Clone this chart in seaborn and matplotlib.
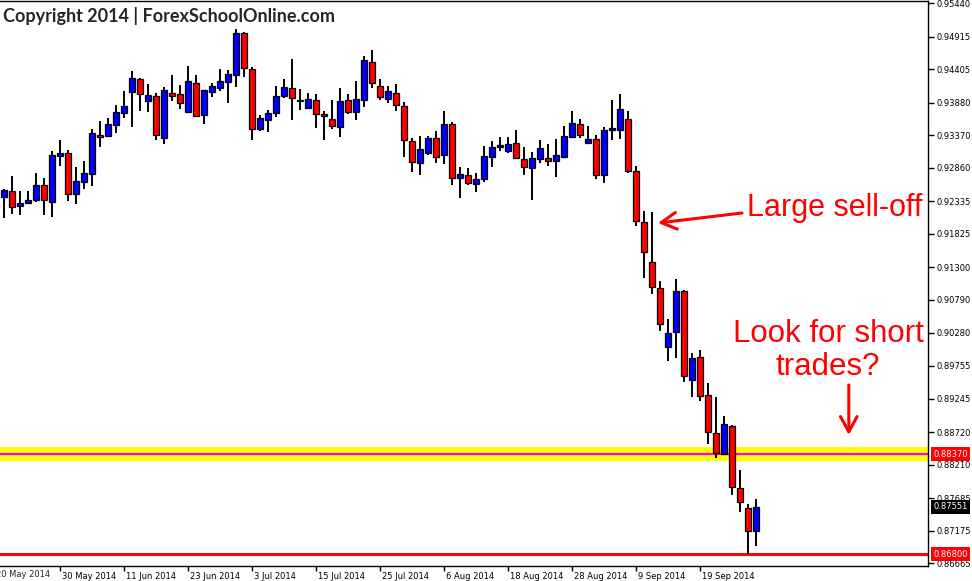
import matplotlib
matplotlib.use("Agg")
import matplotlib.pyplot as plt
import matplotlib.transforms as mtransforms
import pandas as pd
import seaborn as sns

# daily candles (oldest first)
opens = [0.92400, 0.92494, 0.92259, 0.92306, 0.92353, 0.92588, 0.92331, 0.93043, 0.93090, 0.92447,
         0.92636, 0.92761, 0.93373, 0.93357, 0.93529, 0.93717, 0.94047, 0.94251, 0.93906, 0.93984,
         0.93326, 0.94031, 0.94015, 0.93733, 0.94188, 0.93686, 0.94047, 0.94109, 0.94204, 0.94313,
         0.94972, 0.94407, 0.93467, 0.93608, 0.93717, 0.93984, 0.94109, 0.93921, 0.93796, 0.93921,
         0.93702, 0.93623, 0.93498, 0.93921, 0.93733, 0.93921, 0.94517, 0.94141, 0.93937, 0.94031,
         0.93827, 0.93278, 0.92933, 0.93090, 0.93326, 0.93059, 0.93545, 0.92698, 0.92745, 0.92604,
         0.92683, 0.93028, 0.93184, 0.93122, 0.93247, 0.92996, 0.92855, 0.92996, 0.93012, 0.92965,
         0.93028, 0.93341, 0.93545, 0.93247, 0.93310, 0.92745, 0.93451, 0.93451, 0.93623, 0.92808,
         0.92008, 0.91381, 0.90973, 0.90048, 0.90284, 0.90926, 0.89531, 0.89892, 0.89296, 0.88700,
         0.88371, 0.88810, 0.87838, 0.87524, 0.87163]
highs = [0.92526, 0.92734, 0.92494, 0.92494, 0.92777, 0.92698, 0.93122, 0.93299, 0.93137, 0.92875,
         0.92965, 0.93467, 0.93592, 0.93639, 0.93843, 0.94062, 0.94376, 0.94266, 0.94172, 0.94031,
         0.94125, 0.94313, 0.94156, 0.94454, 0.94313, 0.94085, 0.94188, 0.94407, 0.94392, 0.95039,
         0.94988, 0.94439, 0.93686, 0.93765, 0.94141, 0.94251, 0.94564, 0.94094, 0.94031, 0.94015,
         0.93749, 0.93921, 0.94109, 0.94015, 0.94219, 0.94611, 0.94705, 0.94251, 0.94141, 0.94172,
         0.93890, 0.93326, 0.93357, 0.93357, 0.93435, 0.93749, 0.93576, 0.92871, 0.92855, 0.92777,
         0.93200, 0.93278, 0.93341, 0.93341, 0.93451, 0.93184, 0.93106, 0.93294, 0.93231, 0.93310,
         0.93514, 0.93749, 0.93623, 0.93514, 0.93373, 0.93498, 0.93921, 0.94015, 0.93749, 0.92886,
         0.92181, 0.92165, 0.91083, 0.90487, 0.91115, 0.90942, 0.89954, 0.90001, 0.89484, 0.89264,
         0.88966, 0.88825, 0.88120, 0.87587, 0.87665]
lows = [0.92081, 0.92143, 0.92128, 0.92300, 0.92331, 0.92128, 0.92096, 0.92886, 0.92347, 0.92291,
        0.92526, 0.92573, 0.93184, 0.93341, 0.93404, 0.93639, 0.93498, 0.93749, 0.93733, 0.93294,
        0.93231, 0.93906, 0.93780, 0.93717, 0.93660, 0.93545, 0.93968, 0.94062, 0.93874, 0.94125,
        0.94282, 0.93294, 0.93435, 0.93420, 0.93655, 0.93953, 0.93608, 0.93765, 0.93780, 0.93482,
        0.93294, 0.93467, 0.93341, 0.93702, 0.93608, 0.93812, 0.94109, 0.93921, 0.93874, 0.93749,
        0.93028, 0.92792, 0.92745, 0.93059, 0.92933, 0.92918, 0.92588, 0.92385, 0.92588, 0.92479,
        0.92636, 0.92871, 0.93122, 0.93090, 0.93000, 0.92745, 0.92353, 0.92933, 0.92886, 0.92714,
        0.93012, 0.93326, 0.93326, 0.93240, 0.92683, 0.92620, 0.93294, 0.93310, 0.92777, 0.91946,
        0.91130, 0.90879, 0.90299, 0.89829, 0.89876, 0.89500, 0.89264, 0.89202, 0.88527, 0.88308,
        0.88360, 0.87728, 0.87461, 0.86800, 0.86933]
closes = [0.92510, 0.92244, 0.92306, 0.92353, 0.92588, 0.92353, 0.93059, 0.93090, 0.92447, 0.92651,
          0.92777, 0.93404, 0.93341, 0.93545, 0.93733, 0.93827, 0.94266, 0.94015, 0.94000, 0.93373,
          0.94078, 0.93984, 0.93874, 0.94219, 0.93670, 0.94078, 0.94141, 0.94219, 0.94329, 0.94972,
          0.94423, 0.93467, 0.93639, 0.93717, 0.93984, 0.94125, 0.93953, 0.93906, 0.93937, 0.93702,
          0.93670, 0.93514, 0.93910, 0.93733, 0.93937, 0.94549, 0.94188, 0.93968, 0.94062, 0.93843,
          0.93294, 0.92949, 0.93153, 0.93326, 0.93028, 0.93545, 0.92698, 0.92761, 0.92620, 0.92683,
          0.93043, 0.93184, 0.93216, 0.93231, 0.93012, 0.92871, 0.93012, 0.93169, 0.92965, 0.93059,
          0.93357, 0.93561, 0.93373, 0.93310, 0.92745, 0.93451, 0.93482, 0.93780, 0.92808, 0.92024,
          0.91538, 0.90989, 0.90409, 0.90268, 0.90926, 0.89594, 0.89876, 0.89280, 0.88716, 0.88391,
          0.88841, 0.87853, 0.87618, 0.87163, 0.87551]

# date ticks (bar index of the labelled candle)
date_bars = [7, 15, 23, 31, 39, 47, 55, 63, 71, 79, 87]
date_labels = ["30 May 2014", "11 Jun 2014", "23 Jun 2014", "3 Jul 2014", "15 Jul 2014",
               "25 Jul 2014", "6 Aug 2014", "18 Aug 2014", "28 Aug 2014", "9 Sep 2014",
               "19 Sep 2014"]
first_date_bar = -1.3
first_date_label = "20 May 2014"

price_ticks = [0.95440, 0.94915, 0.94405, 0.93880, 0.93370, 0.92860, 0.92335, 0.91825, 0.91300,
               0.90790, 0.90280, 0.89755, 0.89245, 0.88720, 0.88210, 0.87685, 0.87175, 0.86665]

resistance = 0.88370
zone_low, zone_high = 0.88270, 0.88480
support = 0.86800
last_price = 0.87551

df = pd.DataFrame({"open": opens, "high": highs, "low": lows, "close": closes})
df["bar"] = range(len(df))
df["bottom"] = df[["open", "close"]].min(axis=1)
df["body"] = (df["close"] - df["open"]).abs()
df["color"] = ["#0000FF" if c >= o else "#FF0000" for o, c in zip(df["open"], df["close"])]

sns.set_theme(style="ticks")
plt.rcParams["font.family"] = ["DejaVu Sans"]

fig = plt.figure(figsize=(9.72, 5.81), dpi=100)
ax = fig.add_axes([0, 15 / 581, 928 / 972, 565 / 581])
ax.set_facecolor("white")

# support / resistance
ax.axhspan(zone_low, zone_high, color="#FFFF00", lw=0, zorder=1)
ax.axhline(resistance, color="#FF00FF", lw=1.6, zorder=1.5)
ax.axhline(support, color="#FF0000", lw=2.2, zorder=1.5)

# candles
ax.vlines(df["bar"], df["low"], df["high"], color="black", lw=1.4, zorder=2)
ax.bar(df["bar"], df["body"], bottom=df["bottom"], width=0.64, color=df["color"],
       edgecolor="black", linewidth=0.9, zorder=3)

ax.set_xlim(-0.5, 115.5)
ax.set_ylim(0.86619, 0.95478)

ax.yaxis.tick_right()
ax.set_yticks(price_ticks)
ax.set_yticklabels([f"{v:.5f}" for v in price_ticks])
ax.set_xticks(date_bars)
ax.set_xticklabels(date_labels)
ax.tick_params(axis="y", direction="out", length=4, width=1, pad=2, labelsize=6,
               colors="black", left=False, right=True)
ax.tick_params(axis="x", direction="out", length=3.5, width=1, pad=0.5, labelsize=6,
               colors="black")

offset = mtransforms.ScaledTranslation(2 / 100, 0, fig.dpi_scale_trans)
for lab in ax.get_xticklabels():
    lab.set_horizontalalignment("left")
    lab.set_transform(lab.get_transform() + offset)

xtrans = mtransforms.blended_transform_factory(ax.transData, ax.transAxes)
ax.text(first_date_bar, -0.0072, first_date_label, transform=xtrans + offset, fontsize=6,
        ha="left", va="top", clip_on=False)

for side in ["top", "right", "bottom"]:
    ax.spines[side].set_color("black")
    ax.spines[side].set_linewidth(1)
ax.spines["left"].set_visible(False)

# price boxes on the right axis
ytrans = mtransforms.blended_transform_factory(ax.transAxes, ax.transData)
box_offset = mtransforms.ScaledTranslation(5 / 100, 0, fig.dpi_scale_trans)
for val, bg in [(resistance, "#FF0000"), (last_price, "black"), (support, "#FF0000")]:
    ax.text(1.0, val, f"{val:.5f}", transform=ytrans + box_offset, fontsize=6, color="white",
            ha="left", va="center", clip_on=False,
            bbox=dict(boxstyle="square,pad=0.3", fc=bg, ec="none"))

# annotations
ax.annotate("", xy=(81.75, 0.91997), xytext=(92.25, 0.92154),
            arrowprops=dict(arrowstyle="->,head_length=0.55,head_width=0.3", color="#FF0000",
                            lw=2.2, mutation_scale=20, shrinkA=0, shrinkB=0))
ax.text(92.9, 0.92233, "Large sell-off", color="#FF0000", fontsize=22,
        family="Liberation Sans", ha="left", va="center")
ax.text(103.0, 0.9000, "Look for short\ntrades?", color="#FF0000", fontsize=22.5,
        family="Liberation Sans", ha="center", va="center", linespacing=1.1)
ax.annotate("", xy=(105.6, 0.88673), xytext=(105.6, 0.89457),
            arrowprops=dict(arrowstyle="->,head_length=0.55,head_width=0.3", color="#FF0000",
                            lw=2.2, mutation_scale=20, shrinkA=0, shrinkB=0))

fig.text(3 / 972, 1 - 16 / 581, "Copyright 2014 | ForexSchoolOnline.com", fontsize=13,
         fontweight="bold", family="Lato", ha="left", va="center")

fig.savefig("out.png", dpi=100)
